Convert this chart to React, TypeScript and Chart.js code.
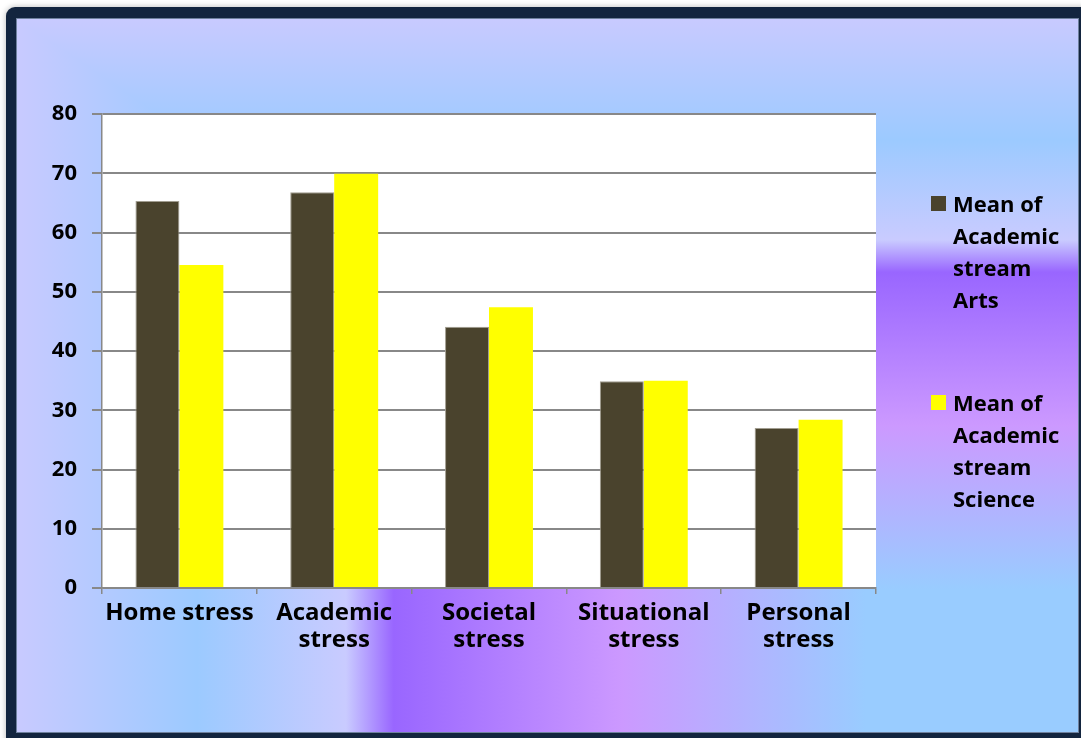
import { useEffect, useRef } from "react";
import { Chart, registerables } from "chart.js";

Chart.register(...registerables);

// ---- data ----
const categories: string[][] = [
  ["Home stress"],
  ["Academic", "stress"],
  ["Societal", "stress"],
  ["Situational", "stress"],
  ["Personal", "stress"],
];
const artsMeans = [65.3, 66.8, 44.1, 34.9, 27.0];
const scienceMeans = [54.5, 69.9, 47.4, 35.0, 28.4];
const seriesLabels = ["Mean of Academic stream Arts", "Mean of Academic stream Science"];
const legendLines = [
  ["Mean of", "Academic", "stream", "Arts"],
  ["Mean of", "Academic", "stream", "Science"],
];
const yMin = 0;
const yMax = 80;
const yStep = 10;

// ---- styling ----
const W = 1081;
const H = 738;
const ARTS_COLOR = "#4a432d";
const SCIENCE_COLOR = "#ffff00";
const GRID_COLOR = "#888888";
const FRAME_COLOR = "#13253f";
const panel = { left: 17, top: 19, right: 1078, bottom: 732 };
const plot = { left: 102, top: 114, right: 876, bottom: 588 };

// colour stops of the panel fill, measured from the bottom-right corner outwards
const panelStops: [number, string][] = [
  [0, "#99ccff"],
  [0.2, "#99ccff"],
  [0.43, "#cc99ff"],
  [0.645, "#9966ff"],
  [0.69, "#c9cbff"],
  [0.83, "#9ccaff"],
  [1, "#c8caff"],
];

const backgroundPlugin = {
  id: "panelBackground",
  beforeDraw(chart: Chart) {
    const ctx = chart.ctx;
    const area = chart.chartArea;
    ctx.save();
    ctx.fillStyle = "#ffffff";
    ctx.fillRect(0, 0, W, H);

    // dark rounded frame with a soft shadow
    ctx.shadowColor = "rgba(0,0,0,0.28)";
    ctx.shadowBlur = 6;
    ctx.fillStyle = FRAME_COLOR;
    ctx.beginPath();
    (ctx as any).roundRect(6, 7, W + 20, H + 20, 9);
    ctx.fill();
    ctx.shadowColor = "transparent";
    ctx.shadowBlur = 0;

    const { left, top, right, bottom } = panel;
    // rectangular gradient from the bottom-right corner:
    // upper-right triangle varies vertically, lower-left triangle horizontally
    const vGrad = ctx.createLinearGradient(0, bottom, 0, top);
    const hGrad = ctx.createLinearGradient(right, 0, left, 0);
    for (const [t, c] of panelStops) {
      vGrad.addColorStop(t, c);
      hGrad.addColorStop(t, c);
    }
    ctx.fillStyle = vGrad;
    ctx.fillRect(left, top, right - left, bottom - top);
    ctx.fillStyle = hGrad;
    ctx.beginPath();
    ctx.moveTo(left, top);
    ctx.lineTo(right, bottom);
    ctx.lineTo(left, bottom);
    ctx.closePath();
    ctx.fill();

    ctx.strokeStyle = "#6f819e";
    ctx.lineWidth = 1;
    ctx.strokeRect(left - 0.5, top - 0.5, right - left + 1, bottom - top + 1);

    // white plot area
    ctx.fillStyle = "#ffffff";
    ctx.fillRect(area.left, area.top, area.right - area.left, area.bottom - area.top);
    ctx.restore();
  },
};

const legendPlugin = {
  id: "sideLegend",
  afterDraw(chart: Chart) {
    const ctx = chart.ctx;
    ctx.save();
    ctx.font = 'bold 22px "Open Sans"';
    ctx.textAlign = "left";
    ctx.textBaseline = "alphabetic";
    const boxTops = [196, 395];
    chart.data.datasets.forEach((ds, i) => {
      const y0 = boxTops[i];
      ctx.fillStyle = ds.backgroundColor as string;
      ctx.fillRect(931, y0, 15, 15);
      ctx.fillStyle = "#000000";
      legendLines[i].forEach((line, k) => {
        ctx.fillText(line, 953, y0 + 15.5 + k * 32.3);
      });
    });
    ctx.restore();
  },
};

export default function App() {
  const canvasRef = useRef<HTMLCanvasElement | null>(null);

  useEffect(() => {
    const canvas = canvasRef.current;
    if (!canvas) return;
    const chart = new Chart(canvas, {
      type: "bar",
      data: {
        labels: categories,
        datasets: [
          {
            label: seriesLabels[0],
            data: artsMeans,
            backgroundColor: ARTS_COLOR,
            borderColor: "#a19d90",
            borderWidth: 1,
            borderSkipped: "bottom",
          },
          {
            label: seriesLabels[1],
            data: scienceMeans,
            backgroundColor: SCIENCE_COLOR,
            borderWidth: 0,
          },
        ],
      },
      options: {
        animation: false,
        responsive: false,
        devicePixelRatio: 1,
        layout: {
          padding: { left: 0, top: plot.top, right: W - plot.right, bottom: 0 },
        },
        datasets: {
          bar: { categoryPercentage: 0.568, barPercentage: 1 },
        },
        plugins: {
          legend: { display: false },
          title: { display: false },
          tooltip: { enabled: false },
        },
        scales: {
          x: {
            grid: {
              offset: true,
              drawOnChartArea: false,
              drawTicks: true,
              tickLength: 6,
              color: GRID_COLOR,
              lineWidth: 1.5,
            },
            border: { color: GRID_COLOR, width: 1.5 },
            ticks: {
              color: "#000000",
              maxRotation: 0,
              minRotation: 0,
              autoSkip: false,
              padding: 6,
              font: { family: '"Open Sans"', size: 24, weight: "bold", lineHeight: 1.125 },
            },
            afterFit(scale: any) {
              scale.height = H - plot.bottom;
            },
          },
          y: {
            min: yMin,
            max: yMax,
            grid: {
              color: GRID_COLOR,
              lineWidth: 2,
              tickLength: 10,
            },
            border: { color: GRID_COLOR, width: 1.5 },
            ticks: {
              stepSize: yStep,
              color: "#000000",
              padding: 15,
              font: { family: '"Open Sans"', size: 22, weight: "bold" },
            },
            afterFit(scale: any) {
              scale.width = plot.left;
            },
          },
        },
      },
      plugins: [backgroundPlugin, legendPlugin],
    });
    return () => chart.destroy();
  }, []);

  return (
    <div style={{ position: "absolute", left: 0, top: 0, width: W, height: H }}>
      <canvas ref={canvasRef} width={W} height={H} />
    </div>
  );
}
